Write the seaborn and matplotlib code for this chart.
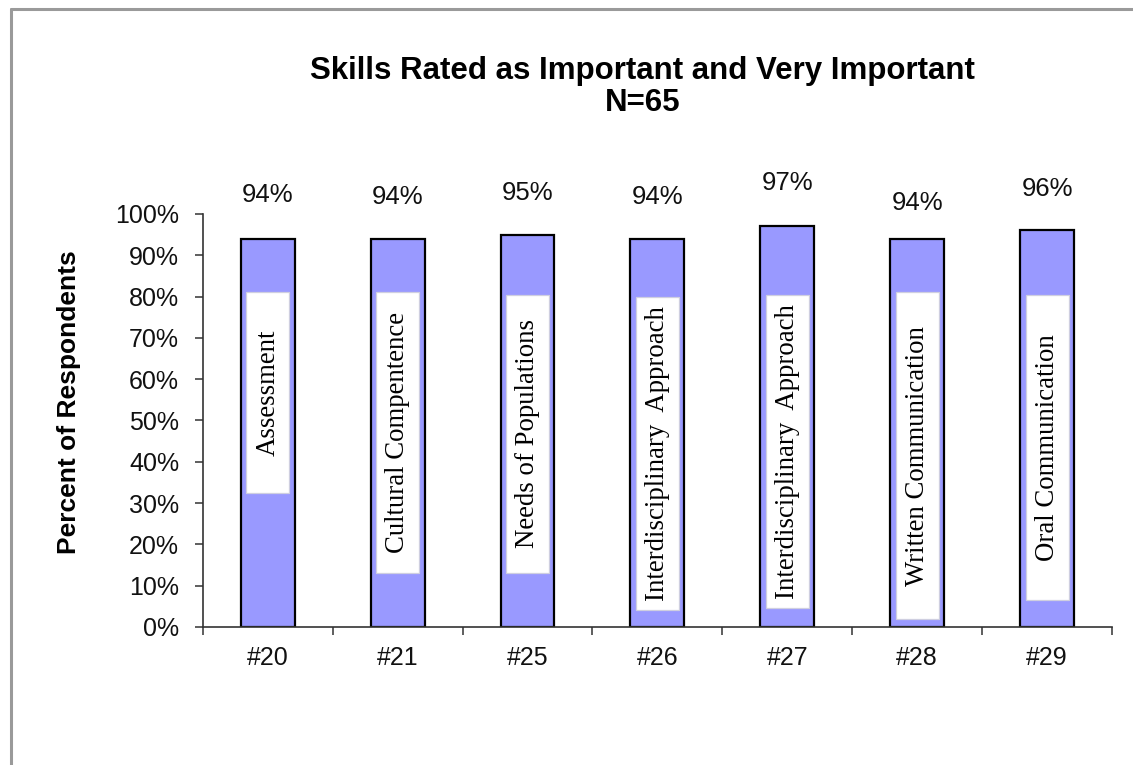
import matplotlib
matplotlib.use("Agg")
import matplotlib.pyplot as plt
import seaborn as sns
import pandas as pd
from matplotlib.lines import Line2D

# ---- data ----
categories = ["#20", "#21", "#25", "#26", "#27", "#28", "#29"]
values = [94, 94, 95, 94, 97, 94, 96]
value_labels = ["94%", "94%", "95%", "94%", "97%", "94%", "96%"]
skills = ["Assessment", "Cultural Compentence", "Needs of Populations",
          "Interdisciplinary  Approach", "Interdisciplinary  Approach",
          "Written Communication", "Oral Communication"]
y_ticks = [0, 10, 20, 30, 40, 50, 60, 70, 80, 90, 100]
y_tick_labels = [f"{t}%" for t in y_ticks]

# ---- layout (label boxes and value-label heights, in data units) ----
box_top = [81, 81, 80.5, 80, 80.5, 81, 80.5]
box_bottom = [32.5, 13, 13, 4, 4.5, 2, 6.5]
label_y = [104.6, 104.1, 105.1, 104.1, 107.5, 102.7, 106.1]

df = pd.DataFrame({"item": categories, "pct": values})

sns.set_theme(style="white")
plt.rcParams["font.family"] = ["Liberation Sans", "DejaVu Sans"]
plt.rcParams["text.color"] = "black"

fig = plt.figure(figsize=(11.33, 7.65), dpi=100)
ax = fig.add_axes([0.179, 0.1804, 0.8025, 0.5399])

sns.barplot(data=df, x="item", y="pct", color="#9999FF", saturation=1,
            edgecolor="black", linewidth=1.6, width=0.415, ax=ax)

# white label boxes inside the bars
xs = list(range(len(categories)))
heights = [t - b for t, b in zip(box_top, box_bottom)]
ax.bar(xs, heights, bottom=box_bottom, width=0.33, color="white",
       edgecolor="#cfcfe0", linewidth=0.9, zorder=3)

for i, (s, t, b) in enumerate(zip(skills, box_top, box_bottom)):
    ax.text(i, (t + b) / 2, s, rotation=90, ha="center", va="center",
            family="Liberation Serif", fontsize=19.3, color="black", zorder=4)

for i, (lab, ly) in enumerate(zip(value_labels, label_y)):
    ax.text(i, ly, lab, ha="center", va="center", fontsize=18.5,
            color="#111111", clip_on=False)

ax.set_xlim(-0.5, len(categories) - 0.5)
ax.set_ylim(0, 100)
ax.set_yticks(y_ticks)
ax.set_yticklabels(y_tick_labels, fontsize=18, color="#111111")
ax.tick_params(axis="y", direction="out", length=6, width=1.1,
               color="#333333", pad=11, left=True)
ax.tick_params(axis="x", which="major", length=0, pad=14,
               labelsize=18, labelcolor="#111111")
ax.set_xticks([x - 0.5 for x in range(len(categories) + 1)], minor=True)
ax.tick_params(axis="x", which="minor", direction="out", length=6,
               width=1.1, color="#333333", bottom=True)
ax.set_xlabel("")
ax.set_ylabel("Percent of Respondents", fontsize=19, fontweight="bold",
              color="black")
ax.yaxis.set_label_coords(-0.134, 0.545)

sns.despine(ax=ax)
for sp in ["left", "bottom"]:
    ax.spines[sp].set_color("#333333")
    ax.spines[sp].set_linewidth(1.2)

fig.text(0.567, 0.907, "Skills Rated as Important and Very Important",
         ha="center", va="center", fontsize=22.5, fontweight="bold",
         color="black")
fig.text(0.567, 0.865, "N=65", ha="center", va="center",
         fontsize=22.5, fontweight="bold", color="black")

# outer gray frame (top and left edges visible)
fig.add_artist(Line2D([11 / 1133, 11 / 1133], [0, 1 - 9 / 765],
                      transform=fig.transFigure, color="#9a9a9a", lw=2.2))
fig.add_artist(Line2D([11 / 1133, 1], [1 - 9 / 765, 1 - 9 / 765],
                      transform=fig.transFigure, color="#9a9a9a", lw=2.2))

fig.savefig("out.png", dpi=100)
